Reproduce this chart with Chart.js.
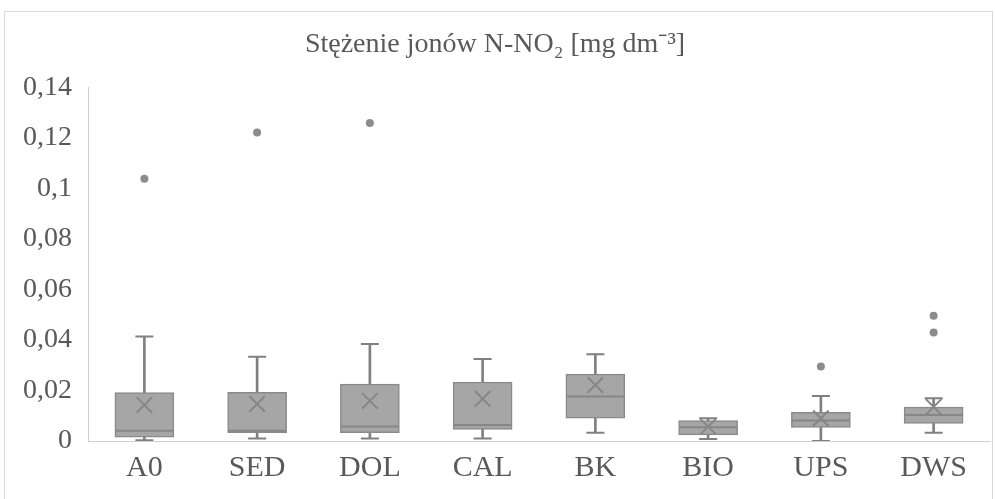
<!DOCTYPE html>
<html>
<head>
<meta charset="utf-8">
<script src="https://cdn.jsdelivr.net/npm/chart.js@4.4.1/dist/chart.umd.min.js"></script>
<style>
  html, body { margin: 0; padding: 0; background: #ffffff; }
  #wrap { position: relative; width: 995px; height: 499px; overflow: hidden; }
  #frame { position: absolute; left: 4px; top: 11px; width: 989px; height: 490px; border: 1px solid #d9d9d9; box-sizing: border-box; }
  #c { position: absolute; left: 0; top: 0; }
</style>
</head>
<body>
<div id="wrap">
  <div id="frame"></div>
  <canvas id="c" width="995" height="499"></canvas>
</div>
<script>
const titleText = 'Stężenie jonów N-NO₂ [mg dm⁻³]';
const categories = ['A0', 'SED', 'DOL', 'CAL', 'BK', 'BIO', 'UPS', 'DWS'];
const whiskerMin = [0.0003, 0.0010, 0.0010, 0.0010, 0.0033, 0.0008, 0.0000, 0.0033];
const q1 = [0.0015, 0.0033, 0.0033, 0.0046, 0.0090, 0.0024, 0.0054, 0.0070];
const median = [0.0041, 0.0041, 0.0057, 0.0063, 0.0176, 0.0054, 0.0081, 0.0103];
const q3 = [0.0192, 0.0193, 0.0225, 0.0233, 0.0265, 0.0081, 0.0114, 0.0134];
const whiskerMax = [0.0414, 0.0334, 0.0384, 0.0325, 0.0344, 0.0090, 0.0178, 0.0169];
const mean = [0.0143, 0.0147, 0.0159, 0.0167, 0.0222, 0.0057, 0.0090, 0.0135];
const outlierCategories = ['A0', 'SED', 'DOL', 'UPS', 'DWS', 'DWS'];
const outlierValues = [0.1039, 0.1222, 0.1260, 0.0295, 0.0496, 0.0430];
const yTickValues = [0, 0.02, 0.04, 0.06, 0.08, 0.10, 0.12, 0.14];
const yTickLabels = ['0', '0,02', '0,04', '0,06', '0,08', '0,1', '0,12', '0,14'];

const boxData = categories.map((c, i) => [q1[i], q3[i]]);
const whiskerData = categories.map((c, i) => [whiskerMin[i], whiskerMax[i]]);
const outlierData = outlierCategories.map((c, i) => ({ x: c, y: outlierValues[i] }));

const textColor = '#595959';
const serif = '"Liberation Serif", "Times New Roman", serif';

new Chart(document.getElementById('c'), {
  type: 'bar',
  data: {
    labels: categories,
    datasets: [
      { label: 'whisker', data: whiskerData, grouped: false, barThickness: 2, backgroundColor: '#808080', borderWidth: 0, order: 10 },
      { label: 'box', data: boxData, grouped: false, barThickness: 59, backgroundColor: '#a6a6a6', borderColor: '#8a8a8a', borderWidth: 1.5, borderSkipped: false, order: 9 },
      { type: 'line', label: 'capMin', data: whiskerMin, showLine: false, pointStyle: 'line', pointRadius: 9, pointBorderWidth: 2, pointBorderColor: '#808080', order: 8 },
      { type: 'line', label: 'capMax', data: whiskerMax, showLine: false, pointStyle: 'line', pointRadius: 9, pointBorderWidth: 2, pointBorderColor: '#808080', order: 7 },
      { type: 'line', label: 'median', data: median, showLine: false, pointStyle: 'line', pointRadius: 29, pointBorderWidth: 2, pointBorderColor: '#868686', order: 6 },
      { type: 'line', label: 'mean', data: mean, showLine: false, pointStyle: 'crossRot', pointRadius: 11, pointBorderWidth: 2, pointBorderColor: '#868686', order: 5 },
      { type: 'line', label: 'outliers', data: outlierData, showLine: false, pointStyle: 'circle', pointRadius: 4, pointBorderWidth: 0, pointBackgroundColor: '#8c8c8c', pointBorderColor: '#8c8c8c', order: 4 }
    ]
  },
  options: {
    responsive: false,
    animation: false,
    events: [],
    layout: { autoPadding: false, padding: { left: 0, right: 5, top: 0, bottom: 0 } },
    plugins: {
      legend: { display: false },
      tooltip: { enabled: false },
      title: {
        display: true, text: titleText, color: textColor,
        font: { family: serif, size: 28, weight: 'normal', lineHeight: 1.2 },
        padding: { top: 28, bottom: 26 }
      }
    },
    scales: {
      x: {
        type: 'category', offset: true,
        grid: { display: false, drawTicks: false },
        border: { display: true, color: '#d0d0d0', width: 1, dash: [4, 2] },
        ticks: { color: textColor, font: { family: serif, size: 30 }, padding: 9 },
        afterFit: (s) => { s.height = 58; s.paddingLeft = 0; s.paddingRight = 0; }
      },
      y: {
        min: 0, max: 0.14,
        afterBuildTicks: (s) => { s.ticks = yTickValues.map(v => ({ value: v })); },
        grid: { display: false, drawTicks: false },
        border: { display: true, color: '#d0d0d0', width: 1, dash: [4, 2] },
        ticks: { color: textColor, font: { family: serif, size: 28 }, padding: 16, callback: (v, i) => yTickLabels[i] },
        afterFit: (s) => { s.width = 88; }
      }
    }
  }
});
</script>
</body>
</html>
